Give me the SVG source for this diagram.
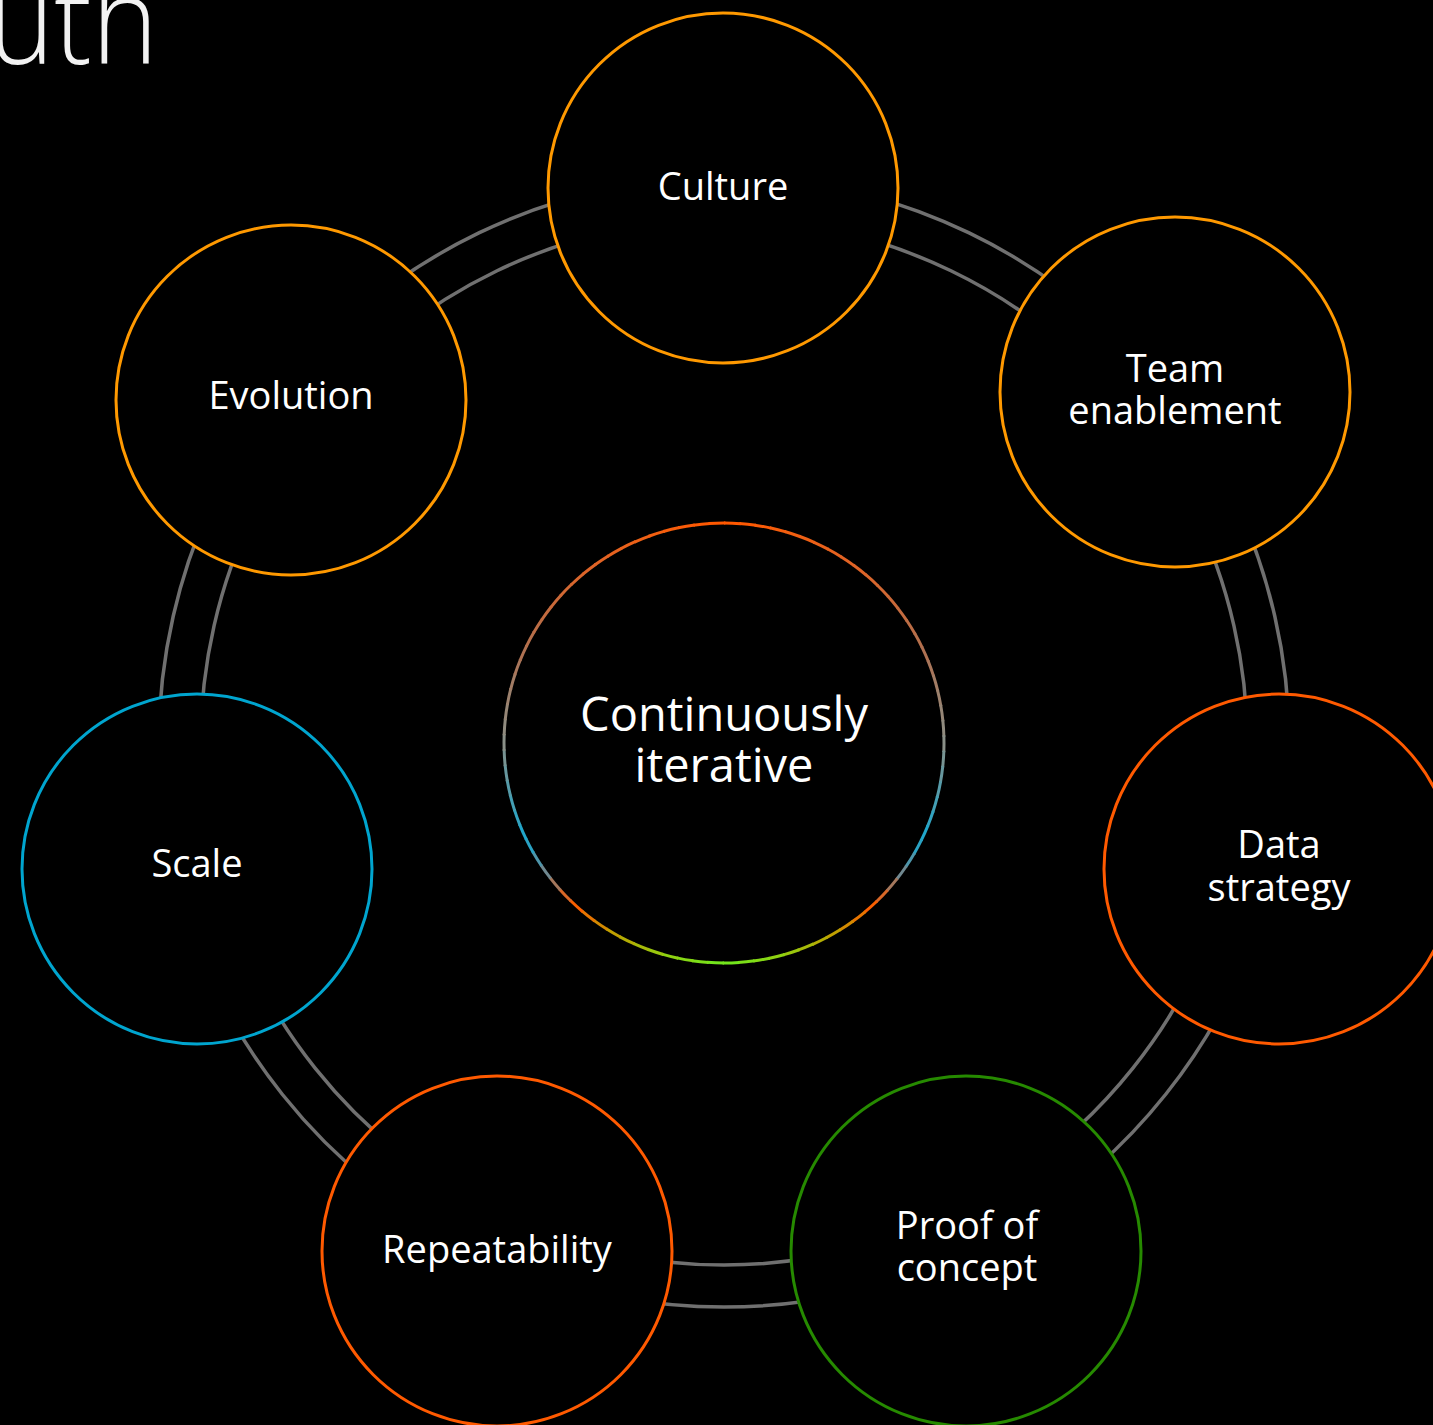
<svg xmlns="http://www.w3.org/2000/svg" width="1433" height="1425" viewBox="0 0 1433 1425">
<style>
.lbl{font-family:"Open Sans","Noto Sans","Liberation Sans",sans-serif;font-size:38px;fill:#ffffff;text-anchor:middle}
.big{font-size:47px}
.node{fill:#000000;stroke-width:3}
.orange{stroke:#ff9900}
.red{stroke:#ff5a00}
.green{stroke:#268a00}
.blue{stroke:#00a5cf}
.conn{fill:none;stroke:#707070;stroke-width:3.5}
.seg{fill:none;stroke-width:3;stroke-dasharray:16.8 1370}
</style>
<rect width="1433" height="1425" fill="#000000"/>
<text x="-12" y="64" font-family="'Open Sans','Lato','Liberation Sans',sans-serif" font-weight="300" font-size="122" fill="#f2f2f2" textLength="170" lengthAdjust="spacingAndGlyphs">uth</text>
<g id="connectors">
<path class="conn" d="M724 177 A565 565 0 0 1 1165.7 389.7"/>
<path class="conn" d="M724 219 A523 523 0 0 1 1132.9 415.9"/>
<path class="conn" d="M1165.7 389.7 A565 565 0 0 1 1274.8 867.7"/>
<path class="conn" d="M1132.9 415.9 A523 523 0 0 1 1233.9 858.4"/>
<path class="conn" d="M1274.8 867.7 A565 565 0 0 1 969.2 1251.1"/>
<path class="conn" d="M1233.9 858.4 A523 523 0 0 1 950.9 1213.2"/>
<path class="conn" d="M969.2 1251.1 A565 565 0 0 1 478.8 1251.1"/>
<path class="conn" d="M950.9 1213.2 A523 523 0 0 1 497.1 1213.2"/>
<path class="conn" d="M478.8 1251.1 A565 565 0 0 1 173.2 867.7"/>
<path class="conn" d="M497.1 1213.2 A523 523 0 0 1 214.1 858.4"/>
<path class="conn" d="M173.2 867.7 A565 565 0 0 1 282.3 389.7"/>
<path class="conn" d="M214.1 858.4 A523 523 0 0 1 315.1 415.9"/>
<path class="conn" d="M282.3 389.7 A565 565 0 0 1 724 177"/>
<path class="conn" d="M315.1 415.9 A523 523 0 0 1 724 219"/>
</g>
<g id="center">
<g transform="translate(724 743)">
<circle class="seg" r="220" transform="rotate(-90)" stroke="rgb(255,88,0)"/>
<circle class="seg" r="220" transform="rotate(-86)" stroke="rgb(253,89,3)"/>
<circle class="seg" r="220" transform="rotate(-82)" stroke="rgb(250,91,8)"/>
<circle class="seg" r="220" transform="rotate(-78)" stroke="rgb(246,93,12)"/>
<circle class="seg" r="220" transform="rotate(-74)" stroke="rgb(242,95,16)"/>
<circle class="seg" r="220" transform="rotate(-70)" stroke="rgb(238,96,21)"/>
<circle class="seg" r="220" transform="rotate(-66)" stroke="rgb(234,97,26)"/>
<circle class="seg" r="220" transform="rotate(-62)" stroke="rgb(230,98,31)"/>
<circle class="seg" r="220" transform="rotate(-58)" stroke="rgb(226,99,36)"/>
<circle class="seg" r="220" transform="rotate(-54)" stroke="rgb(222,100,40)"/>
<circle class="seg" r="220" transform="rotate(-50)" stroke="rgb(216,102,45)"/>
<circle class="seg" r="220" transform="rotate(-46)" stroke="rgb(209,104,51)"/>
<circle class="seg" r="220" transform="rotate(-42)" stroke="rgb(202,105,57)"/>
<circle class="seg" r="220" transform="rotate(-38)" stroke="rgb(195,107,63)"/>
<circle class="seg" r="220" transform="rotate(-34)" stroke="rgb(188,109,69)"/>
<circle class="seg" r="220" transform="rotate(-30)" stroke="rgb(181,111,75)"/>
<circle class="seg" r="220" transform="rotate(-26)" stroke="rgb(174,113,82)"/>
<circle class="seg" r="220" transform="rotate(-22)" stroke="rgb(168,118,91)"/>
<circle class="seg" r="220" transform="rotate(-18)" stroke="rgb(162,124,100)"/>
<circle class="seg" r="220" transform="rotate(-14)" stroke="rgb(156,129,109)"/>
<circle class="seg" r="220" transform="rotate(-10)" stroke="rgb(150,134,118)"/>
<circle class="seg" r="220" transform="rotate(-6)" stroke="rgb(144,139,127)"/>
<circle class="seg" r="220" transform="rotate(-2)" stroke="rgb(138,144,136)"/>
<circle class="seg" r="220" transform="rotate(2)" stroke="rgb(120,148,147)"/>
<circle class="seg" r="220" transform="rotate(6)" stroke="rgb(103,151,158)"/>
<circle class="seg" r="220" transform="rotate(10)" stroke="rgb(85,155,169)"/>
<circle class="seg" r="220" transform="rotate(14)" stroke="rgb(68,159,180)"/>
<circle class="seg" r="220" transform="rotate(18)" stroke="rgb(50,162,191)"/>
<circle class="seg" r="220" transform="rotate(22)" stroke="rgb(33,166,202)"/>
<circle class="seg" r="220" transform="rotate(26)" stroke="rgb(42,162,195)"/>
<circle class="seg" r="220" transform="rotate(30)" stroke="rgb(77,149,170)"/>
<circle class="seg" r="220" transform="rotate(34)" stroke="rgb(112,136,144)"/>
<circle class="seg" r="220" transform="rotate(38)" stroke="rgb(164,119,92)"/>
<circle class="seg" r="220" transform="rotate(42)" stroke="rgb(216,103,39)"/>
<circle class="seg" r="220" transform="rotate(46)" stroke="rgb(250,95,0)"/>
<circle class="seg" r="220" transform="rotate(50)" stroke="rgb(231,117,0)"/>
<circle class="seg" r="220" transform="rotate(54)" stroke="rgb(211,138,0)"/>
<circle class="seg" r="220" transform="rotate(58)" stroke="rgb(192,160,0)"/>
<circle class="seg" r="220" transform="rotate(62)" stroke="rgb(179,173,4)"/>
<circle class="seg" r="220" transform="rotate(66)" stroke="rgb(166,186,9)"/>
<circle class="seg" r="220" transform="rotate(70)" stroke="rgb(154,198,13)"/>
<circle class="seg" r="220" transform="rotate(74)" stroke="rgb(142,210,17)"/>
<circle class="seg" r="220" transform="rotate(78)" stroke="rgb(133,216,21)"/>
<circle class="seg" r="220" transform="rotate(82)" stroke="rgb(124,222,24)"/>
<circle class="seg" r="220" transform="rotate(86)" stroke="rgb(115,229,28)"/>
<circle class="seg" r="220" transform="rotate(90)" stroke="rgb(115,229,28)"/>
<circle class="seg" r="220" transform="rotate(94)" stroke="rgb(124,222,24)"/>
<circle class="seg" r="220" transform="rotate(98)" stroke="rgb(133,216,21)"/>
<circle class="seg" r="220" transform="rotate(102)" stroke="rgb(142,210,17)"/>
<circle class="seg" r="220" transform="rotate(106)" stroke="rgb(154,198,13)"/>
<circle class="seg" r="220" transform="rotate(110)" stroke="rgb(166,186,9)"/>
<circle class="seg" r="220" transform="rotate(114)" stroke="rgb(179,173,4)"/>
<circle class="seg" r="220" transform="rotate(118)" stroke="rgb(192,160,0)"/>
<circle class="seg" r="220" transform="rotate(122)" stroke="rgb(211,138,0)"/>
<circle class="seg" r="220" transform="rotate(126)" stroke="rgb(231,117,0)"/>
<circle class="seg" r="220" transform="rotate(130)" stroke="rgb(250,95,0)"/>
<circle class="seg" r="220" transform="rotate(134)" stroke="rgb(216,103,39)"/>
<circle class="seg" r="220" transform="rotate(138)" stroke="rgb(164,119,92)"/>
<circle class="seg" r="220" transform="rotate(142)" stroke="rgb(112,136,144)"/>
<circle class="seg" r="220" transform="rotate(146)" stroke="rgb(77,149,170)"/>
<circle class="seg" r="220" transform="rotate(150)" stroke="rgb(42,162,195)"/>
<circle class="seg" r="220" transform="rotate(154)" stroke="rgb(33,166,202)"/>
<circle class="seg" r="220" transform="rotate(158)" stroke="rgb(50,162,191)"/>
<circle class="seg" r="220" transform="rotate(162)" stroke="rgb(68,159,180)"/>
<circle class="seg" r="220" transform="rotate(166)" stroke="rgb(85,155,169)"/>
<circle class="seg" r="220" transform="rotate(170)" stroke="rgb(103,151,158)"/>
<circle class="seg" r="220" transform="rotate(174)" stroke="rgb(120,148,147)"/>
<circle class="seg" r="220" transform="rotate(178)" stroke="rgb(138,144,136)"/>
<circle class="seg" r="220" transform="rotate(182)" stroke="rgb(144,139,127)"/>
<circle class="seg" r="220" transform="rotate(186)" stroke="rgb(150,134,118)"/>
<circle class="seg" r="220" transform="rotate(190)" stroke="rgb(156,129,109)"/>
<circle class="seg" r="220" transform="rotate(194)" stroke="rgb(162,124,100)"/>
<circle class="seg" r="220" transform="rotate(198)" stroke="rgb(168,118,91)"/>
<circle class="seg" r="220" transform="rotate(202)" stroke="rgb(174,113,82)"/>
<circle class="seg" r="220" transform="rotate(206)" stroke="rgb(181,111,75)"/>
<circle class="seg" r="220" transform="rotate(210)" stroke="rgb(188,109,69)"/>
<circle class="seg" r="220" transform="rotate(214)" stroke="rgb(195,107,63)"/>
<circle class="seg" r="220" transform="rotate(218)" stroke="rgb(202,105,57)"/>
<circle class="seg" r="220" transform="rotate(222)" stroke="rgb(209,104,51)"/>
<circle class="seg" r="220" transform="rotate(226)" stroke="rgb(216,102,45)"/>
<circle class="seg" r="220" transform="rotate(230)" stroke="rgb(222,100,40)"/>
<circle class="seg" r="220" transform="rotate(234)" stroke="rgb(226,99,36)"/>
<circle class="seg" r="220" transform="rotate(238)" stroke="rgb(230,98,31)"/>
<circle class="seg" r="220" transform="rotate(242)" stroke="rgb(234,97,26)"/>
<circle class="seg" r="220" transform="rotate(246)" stroke="rgb(238,96,21)"/>
<circle class="seg" r="220" transform="rotate(250)" stroke="rgb(242,95,16)"/>
<circle class="seg" r="220" transform="rotate(254)" stroke="rgb(246,93,12)"/>
<circle class="seg" r="220" transform="rotate(258)" stroke="rgb(250,91,8)"/>
<circle class="seg" r="220" transform="rotate(262)" stroke="rgb(253,89,3)"/>
<circle class="seg" r="220" transform="rotate(266)" stroke="rgb(255,88,0)"/>
</g>
<text class="lbl big" x="724" y="731"><tspan x="724" y="731">Continuously</tspan><tspan x="724" y="782">iterative</tspan></text>
</g>
<g id="culture">
<circle class="node orange" cx="723" cy="188" r="175"/>
<text class="lbl" x="723" y="200">Culture</text>
</g>
<g id="team-enablement">
<circle class="node orange" cx="1175" cy="392" r="175"/>
<text class="lbl" x="1175" y="382"><tspan x="1175" y="382">Team</tspan><tspan x="1175" y="424">enablement</tspan></text>
</g>
<g id="data-strategy">
<circle class="node red" cx="1279" cy="869" r="175"/>
<text class="lbl" x="1279" y="858"><tspan x="1279" y="858">Data</tspan><tspan x="1279" y="901">strategy</tspan></text>
</g>
<g id="proof-of-concept">
<circle class="node green" cx="966" cy="1251" r="175"/>
<text class="lbl" x="967" y="1239"><tspan x="967" y="1239">Proof of</tspan><tspan x="967" y="1281">concept</tspan></text>
</g>
<g id="repeatability">
<circle class="node red" cx="497" cy="1251" r="175"/>
<text class="lbl" x="497" y="1263">Repeatability</text>
</g>
<g id="scale">
<circle class="node blue" cx="197" cy="869" r="175"/>
<text class="lbl" x="197" y="877">Scale</text>
</g>
<g id="evolution">
<circle class="node orange" cx="291" cy="400" r="175"/>
<text class="lbl" x="291" y="409">Evolution</text>
</g>
</svg>
